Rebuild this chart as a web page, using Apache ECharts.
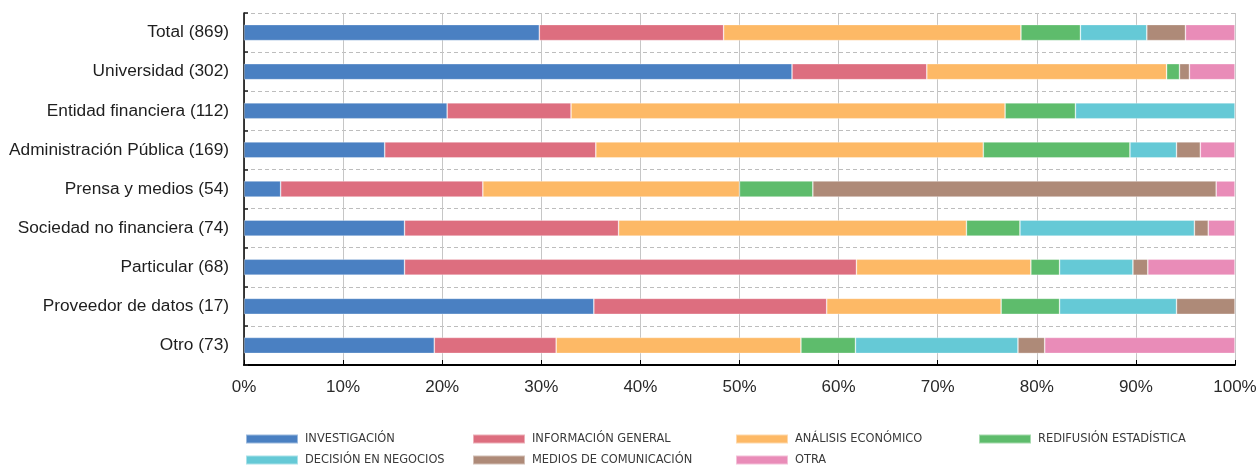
<!DOCTYPE html>
<html>
<head>
<meta charset="utf-8">
<script src="https://cdn.jsdelivr.net/npm/echarts@6/dist/echarts.min.js"></script>
<style>
html,body{margin:0;padding:0;background:#fff;}
#chart{width:1260px;height:468px;}
</style>
</head>
<body>
<div id="chart"></div>
<script>
const categories = [
  'Total (869)',
  'Universidad (302)',
  'Entidad financiera (112)',
  'Administración Pública (169)',
  'Prensa y medios (54)',
  'Sociedad no financiera (74)',
  'Particular (68)',
  'Proveedor de datos (17)',
  'Otro (73)'
];
const xTicks = [0, 10, 20, 30, 40, 50, 60, 70, 80, 90, 100];

const seriesNames = [
  'INVESTIGACIÓN',
  'INFORMACIÓN GENERAL',
  'ANÁLISIS ECONÓMICO',
  'REDIFUSIÓN ESTADÍSTICA',
  'DECISIÓN EN NEGOCIOS',
  'MEDIOS DE COMUNICACIÓN',
  'OTRA'
];
const investigacion   = [29.8, 55.3, 20.5, 14.2, 3.7, 16.2, 16.2, 35.3, 19.2];
const informacion     = [18.6, 13.6, 12.5, 21.3, 20.4, 21.6, 45.6, 23.5, 12.3];
const analisis        = [30.0, 24.2, 43.8, 39.1, 25.9, 35.1, 17.6, 17.6, 24.7];
const redifusion      = [6.0, 1.3, 7.1, 14.8, 7.4, 5.4, 2.9, 5.9, 5.5];
const decision        = [6.7, 0, 16.1, 4.7, 0, 17.6, 7.4, 11.8, 16.4];
const medios          = [3.9, 1.0, 0, 2.4, 40.7, 1.4, 1.5, 5.9, 2.7];
const otra            = [5.0, 4.6, 0, 3.5, 1.9, 2.7, 8.8, 0, 19.2];

const seriesData = [investigacion, informacion, analisis, redifusion, decision, medios, otra];
const colors = ['#4a80c2', '#dd6e7f', '#fdb966', '#5ebc6c', '#65c9d6', '#ae8a78', '#e98cb8'];

// legend placement (column x, row y)
const legendPos = [
  [245, 431], [472, 431], [735, 431], [978, 431],
  [245, 452], [472, 452], [735, 452]
];

const chart = echarts.init(document.getElementById('chart'), null, {renderer: 'canvas'});

const legends = seriesNames.map((n, i) => ({
  data: [n],
  left: legendPos[i][0],
  top: legendPos[i][1],
  padding: 0,
  orient: 'horizontal',
  icon: 'rect',
  itemWidth: 52,
  itemHeight: 9,
  selectedMode: false,
  textStyle: {
    fontFamily: "'Liberation Sans Narrow', 'DejaVu Sans Condensed', 'Liberation Sans', sans-serif",
    fontSize: 12.7,
    color: '#3a3a3a',
    lineHeight: 16,
    padding: [0, 0, 0, 2]
  }
}));

const series = seriesNames.map((n, i) => ({
  name: n,
  type: 'bar',
  stack: 'all',
  barWidth: 16,
  data: seriesData[i].map(v => v === 0 ? '-' : v),
  itemStyle: {
    color: colors[i],
    borderColor: 'rgba(255,255,255,0.45)',
    borderWidth: 0.7
  },
  emphasis: {disabled: true}
}));

chart.setOption({
  animation: false,
  color: colors,
  legend: legends,
  grid: {left: 244, right: 25, top: 13, bottom: 103, containLabel: false},
  xAxis: {
    type: 'value',
    min: xTicks[0],
    max: xTicks[xTicks.length - 1],
    interval: 10,
    axisLine: {show: true, lineStyle: {color: '#000', width: 2}},
    axisTick: {show: true, inside: true, length: 5, lineStyle: {color: '#000', width: 1}},
    axisLabel: {
      formatter: '{value}%',
      margin: 14,
      fontFamily: "'Liberation Sans', Helvetica, Arial, sans-serif",
      fontSize: 17,
      color: '#2a2a2a'
    },
    splitLine: {show: true, lineStyle: {color: '#c6c6c6', width: 1}}
  },
  yAxis: {
    type: 'category',
    data: categories,
    inverse: true,
    boundaryGap: true,
    axisLine: {show: true, lineStyle: {color: '#000', width: 1.5}},
    axisTick: {show: true, inside: true, length: 4, lineStyle: {color: '#222', width: 1.5}},
    axisLabel: {
      margin: 15,
      fontFamily: "'Liberation Sans', Helvetica, Arial, sans-serif",
      fontSize: 17.3,
      color: '#1e1e1e'
    },
    splitLine: {show: true, lineStyle: {color: '#bdbdbd', width: 1, type: [4, 3]}}
  },
  series: series
});
</script>
</body>
</html>
